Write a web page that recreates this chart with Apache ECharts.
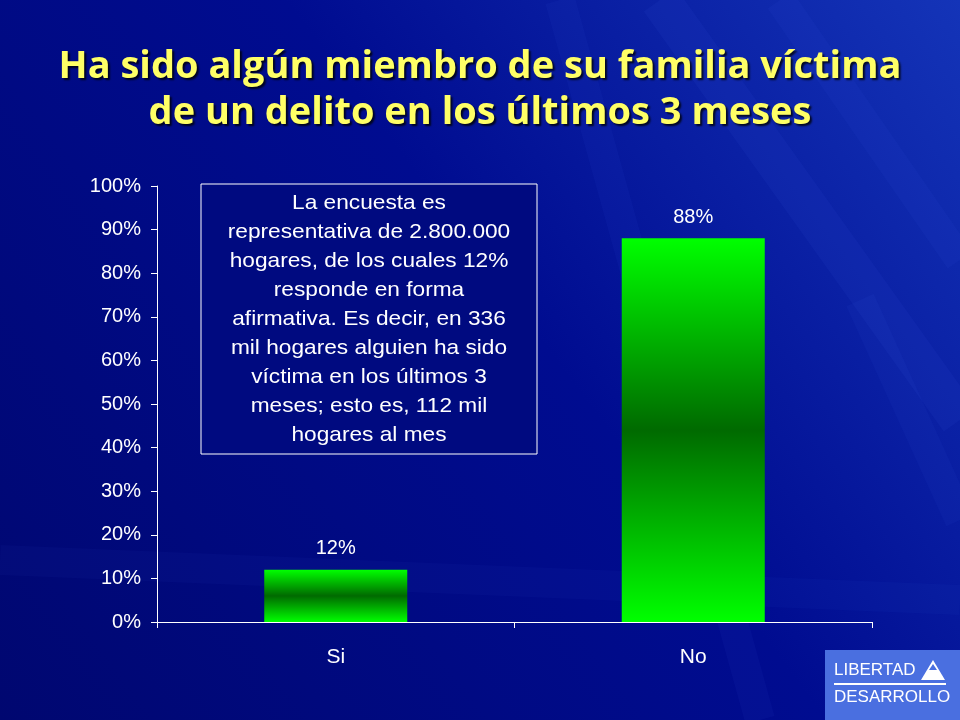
<!DOCTYPE html>
<html><head><meta charset="utf-8">
<script src="https://cdn.jsdelivr.net/npm/echarts@6/dist/echarts.min.js"></script>
<style>html,body{margin:0;padding:0;background:#000a80}#c{width:960px;height:720px}</style>
</head><body><div id="c"></div>
<script>
const categories = ['Si', 'No'];
const values = [12, 88];
const yTicks = [0, 10, 20, 30, 40, 50, 60, 70, 80, 90, 100];
const titleLines = ['Ha sido algún miembro de su familia víctima', 'de un delito en los últimos 3 meses'];
const noteText = 'La encuesta es\nrepresentativa de 2.800.000\nhogares, de los cuales 12%\nresponde en forma\nafirmativa. Es decir, en 336\nmil hogares alguien ha sido\nvíctima en los últimos 3\nmeses; esto es, 112 mil\nhogares al mes';

const chart = echarts.init(document.getElementById('c'));
const barGrad = new echarts.graphic.LinearGradient(0, 0, 0, 1, [
  {offset: 0, color: '#00ff00'},
  {offset: 0.5, color: '#006a00'},
  {offset: 1, color: '#00ff00'}
]);
const streaks = [];
const streakDefs = [[560,0,760,720,0.05,30],[660,0,960,420,0.06,40],[780,0,960,260,0.05,30],[860,300,960,520,0.05,30],[0,560,960,600,0.04,30]];
streakDefs.forEach(d => {
  streaks.push({type:'line', silent:true, z:-10, shape:{x1:d[0],y1:d[1],x2:d[2],y2:d[3]}, style:{stroke:'rgba(80,120,255,'+d[4]+')', lineWidth:d[5]}});
});
chart.setOption({
  backgroundColor: new echarts.graphic.LinearGradient(0, 1, 1, 0, [
    {offset: 0, color: '#000770'},
    {offset: 0.55, color: '#000c90'},
    {offset: 1, color: '#1434b8'}
  ]),
  animation: false,
  grid: {left: 157, right: 88, top: 186, bottom: 98},
  xAxis: {
    type: 'category', data: categories,
    axisLine: {lineStyle: {color: '#ffffff', width: 1}},
    axisTick: {show: true, lineStyle: {color: '#ffffff'}, length: 6},
    axisLabel: {color: '#ffffff', fontSize: 21, fontFamily: 'Liberation Sans, Arial', margin: 25}
  },
  yAxis: {
    type: 'value', min: 0, max: 100, interval: 10,
    axisLine: {show: true, lineStyle: {color: '#ffffff'}},
    axisTick: {show: true, lineStyle: {color: '#ffffff'}, length: 6},
    splitLine: {show: false},
    axisLabel: {color: '#ffffff', fontSize: 20, fontFamily: 'Liberation Sans, Arial', margin: 16, formatter: v => yTicks.includes(v) ? v + '%' : ''}
  },
  series: [{
    type: 'bar', data: values, barWidth: '40%',
    itemStyle: {color: barGrad},
    label: {show: true, position: 'top', distance: 11, color: '#ffffff', fontSize: 20, fontFamily: 'Liberation Sans, Arial', formatter: p => p.value + '%'}
  }],
  graphic: streaks.concat([
    {type: 'text', x: 480, y: 44, z: 10, style: {text: titleLines.join('\n'), fill: '#ffff66', font: 'bold 38px "Open Sans", sans-serif', lineHeight: 46, align: 'center', textShadowColor: 'rgba(0,0,0,0.8)', textShadowOffsetX: 2, textShadowOffsetY: 2, textShadowBlur: 2}},
    {type: 'rect', z: 10, shape: {x: 201, y: 184, width: 336, height: 270}, style: {fill: '#000a80', stroke: '#ffffff', lineWidth: 1}},
    {type: 'text', z: 11, x: 369, y: 189, scaleX: 1.08, style: {text: noteText, fill: '#ffffff', font: '21px "Liberation Sans", Arial', lineHeight: 29, align: 'center'}},
    {type: 'rect', z: 10, shape: {x: 825, y: 650, width: 135, height: 70}, style: {fill: '#4a6fe0'}},
    {type: 'text', z: 11, x: 834, y: 662, style: {text: 'LIBERTAD', fill: '#ffffff', font: '17px "Liberation Sans", Arial'}},
    {type: 'line', z: 11, shape: {x1: 834, y1: 684, x2: 946, y2: 684}, style: {stroke: '#ffffff', lineWidth: 2}},
    {type: 'text', z: 11, x: 834, y: 689, style: {text: 'DESARROLLO', fill: '#ffffff', font: '17px "Liberation Sans", Arial'}},
    {type: 'polygon', z: 11, shape: {points: [[933, 660], [921, 680], [945, 680]]}, style: {fill: '#ffffff'}},
    {type: 'polygon', z: 12, shape: {points: [[933, 664], [929, 670], [937, 670]]}, style: {fill: '#4a6fe0'}}
  ])
});
</script></body></html>
